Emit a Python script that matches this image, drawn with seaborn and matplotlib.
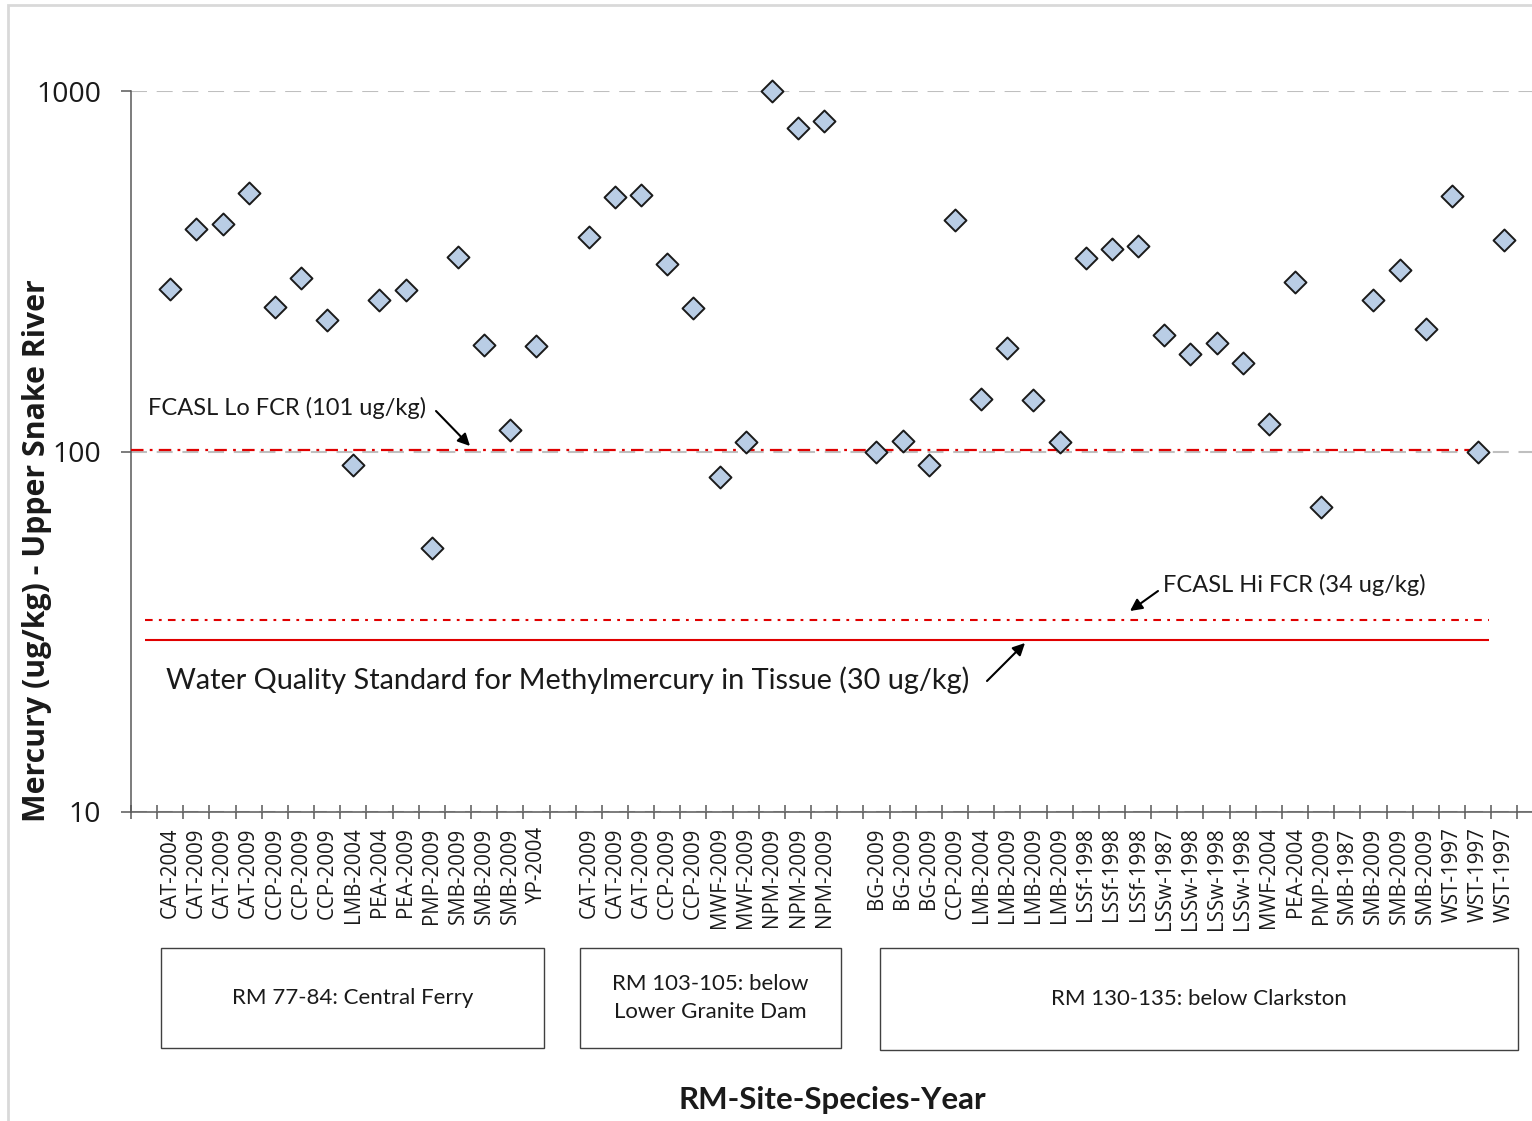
import numpy as np
import pandas as pd
import matplotlib
matplotlib.use("Agg")
import matplotlib.pyplot as plt
import seaborn as sns
from matplotlib.patches import Rectangle
from matplotlib.ticker import FixedLocator, LogLocator, NullFormatter

# ---------------- data ----------------
central_ferry_labels = ["CAT-2004", "CAT-2009", "CAT-2009", "CAT-2009", "CCP-2009", "CCP-2009",
                        "CCP-2009", "LMB-2004", "PEA-2004", "PEA-2009", "PMP-2009", "SMB-2009",
                        "SMB-2009", "SMB-2009", "YP-2004"]
central_ferry_hg = [282, 413, 428, 522, 252, 302, 232, 92, 263, 281, 54, 347, 197, 115, 196]

lower_granite_labels = ["CAT-2009", "CAT-2009", "CAT-2009", "CCP-2009", "CCP-2009", "MWF-2009",
                        "MWF-2009", "NPM-2009", "NPM-2009", "NPM-2009"]
lower_granite_hg = [394, 508, 516, 331, 250, 85, 106, 1000, 791, 827]

clarkston_labels = ["BG-2009", "BG-2009", "BG-2009", "CCP-2009", "LMB-2004", "LMB-2009", "LMB-2009",
                    "LMB-2009", "LSSf-1998", "LSSf-1998", "LSSf-1998", "LSSw-1987", "LSSw-1998",
                    "LSSw-1998", "LSSw-1998", "MWF-2004", "PEA-2004", "PMP-2009", "SMB-1987",
                    "SMB-2009", "SMB-2009", "SMB-2009", "WST-1997", "WST-1997", "WST-1997"]
clarkston_hg = [100, 107, 92, 440, 140, 194, 139, 106, 345, 364, 372, 210, 186, 200, 176, 119,
                296, 70, np.nan, 263, 319, 218, 512, 100, 385]

group_names = ["RM 77-84: Central Ferry", "RM 103-105: below\nLower Granite Dam",
               "RM 130-135: below Clarkston"]
y_ticks = [10, 100, 1000]
y_tick_labels = ["10", "100", "1000"]
fcasl_lo = 101
fcasl_hi = 34
wqs = 30

# ---------------- build table ----------------
groups = [(central_ferry_labels, central_ferry_hg),
          (lower_granite_labels, lower_granite_hg),
          (clarkston_labels, clarkston_hg)]
rows = []
start = 1
for gi, (labs, vals) in enumerate(groups):
    for k, (lab, v) in enumerate(zip(labs, vals)):
        rows.append({"pos": start + k, "label": lab, "hg": v, "group": group_names[gi]})
    start += len(labs) + 1
df = pd.DataFrame(rows)
last_pos = df["pos"].max()

# ---------------- figure ----------------
W, H = 1532, 1121
sns.set_theme(style="white")
plt.rcParams["font.family"] = ["Open Sans", "DejaVu Sans"]
plt.rcParams["lines.scale_dashes"] = False

fig = plt.figure(figsize=(W / 100, H / 100), dpi=100)
fx = lambda x: x / W
fy = lambda y: 1 - y / H

ax = fig.add_axes([fx(131), fy(812), fx(1532) - fx(131), fy(91) - fy(812)])
ax.set_yscale("log")

sns.scatterplot(data=df, x="pos", y="hg", marker="D", s=125, color="#B9CDE5",
                edgecolor="#1a1a1a", linewidth=1.4, ax=ax, zorder=5, legend=False,
                clip_on=False)

ax.set_xlim(-0.5, 53.06)
ax.set_ylim(10, 1000)

# grid
ax.set_yticks(y_ticks)
ax.set_yticklabels(y_tick_labels)
ax.yaxis.set_minor_locator(LogLocator(base=10, subs=np.arange(2, 10)))
ax.yaxis.set_minor_formatter(NullFormatter())
ax.yaxis.grid(True, which="major", color="#BFBFBF", linestyle=(0, (11.5, 7)), linewidth=1.5, zorder=1)
ax.xaxis.grid(False)

# reference lines
red = "#E00000"
ax.hlines(fcasl_lo, -0.5, last_pos - 0.6, colors=red, linestyles=[(0, (9, 4.5, 2, 4.5))],
          linewidth=1.6, zorder=3)
ax.hlines(fcasl_hi, 0.05, last_pos - 0.6, colors=red, linestyles=[(0, (5.5, 4.5, 2, 4.5))],
          linewidth=1.5, zorder=3)
ax.hlines(wqs, 0.05, last_pos - 0.6, colors=red, linestyles="solid", linewidth=1.5, zorder=3)

# x ticks
ax.set_xticks(df["pos"])
ax.set_xticklabels(df["label"], rotation=90, fontsize=14.8, color="#1a1a1a")
ax.xaxis.set_minor_locator(FixedLocator(np.arange(-0.5, last_pos + 1, 1)))
ax.tick_params(axis="x", which="major", length=0, pad=11)
ax.tick_params(axis="x", which="minor", direction="inout", length=10, width=1.1, color="#595959")
ax.tick_params(axis="y", which="major", direction="out", length=7.5, width=1.1, color="#595959",
               pad=14, labelsize=20.5, labelcolor="#1a1a1a")
ax.tick_params(axis="y", which="minor", direction="out", length=5.5, width=1.1, color="#595959")
ax.tick_params(left=True, bottom=True)
ax.xaxis.set_tick_params(which="minor", bottom=True)

for s in ["top", "right"]:
    ax.spines[s].set_visible(False)
for s in ["left", "bottom"]:
    ax.spines[s].set_color("#595959")
    ax.spines[s].set_linewidth(1.1)
ax.set_xlabel("")
ax.set_ylabel("")

# annotations
calib = ["Lato", "DejaVu Sans"]
fig.text(fx(148), fy(408), "FCASL Lo FCR (101 ug/kg)", fontsize=17, family=calib,
         ha="left", va="center", color="#1a1a1a")
fig.text(fx(1163), fy(585), "FCASL Hi FCR (34 ug/kg)", fontsize=17, family=calib,
         ha="left", va="center", color="#1a1a1a")
fig.text(fx(166), fy(680), "Water Quality Standard for Methylmercury in Tissue (30 ug/kg)",
         fontsize=20.8, family=calib, ha="left", va="center", color="#1a1a1a")
arrow = dict(arrowstyle="-|>", color="black", lw=1.5, mutation_scale=18, shrinkA=0, shrinkB=0)
for tail, head in [((436, 411), (470, 446)), ((1158, 591), (1130, 611)), ((987, 681), (1025, 643))]:
    ax.annotate("", xy=(fx(head[0]), fy(head[1])), xytext=(fx(tail[0]), fy(tail[1])),
                xycoords="figure fraction", textcoords="figure fraction", arrowprops=arrow)

# group boxes
boxes = [(161, 948, 544, 1048), (580, 948, 841, 1048), (880, 948, 1518, 1050)]
for (x0, y0, x1, y1), name in zip(boxes, group_names):
    fig.patches.append(Rectangle((fx(x0), fy(y1)), fx(x1) - fx(x0), fy(y0) - fy(y1),
                                 transform=fig.transFigure, fill=False, ec="#404040", lw=1.0))
    fig.text(fx((x0 + x1) / 2), fy((y0 + y1) / 2), name, fontsize=16, family=calib,
             ha="center", va="center", color="#1a1a1a", linespacing=1.5)

# axis titles
fig.text(fx(832), fy(1100), "RM-Site-Species-Year", fontsize=22.5, family=calib,
         fontweight="bold", ha="center", va="center", color="#1a1a1a")
fig.text(fx(37), fy(551), "Mercury (ug/kg) - Upper Snake River", fontsize=21.8,
         fontweight="bold", rotation=90, ha="center", va="center", color="#1a1a1a")

# outer chart border
fig.patches.append(Rectangle((fx(8), -0.05), 1.2, fy(5) + 0.05, transform=fig.transFigure,
                             fill=False, ec="#D9D9D9", lw=2))

fig.savefig("out.png", dpi=100)
